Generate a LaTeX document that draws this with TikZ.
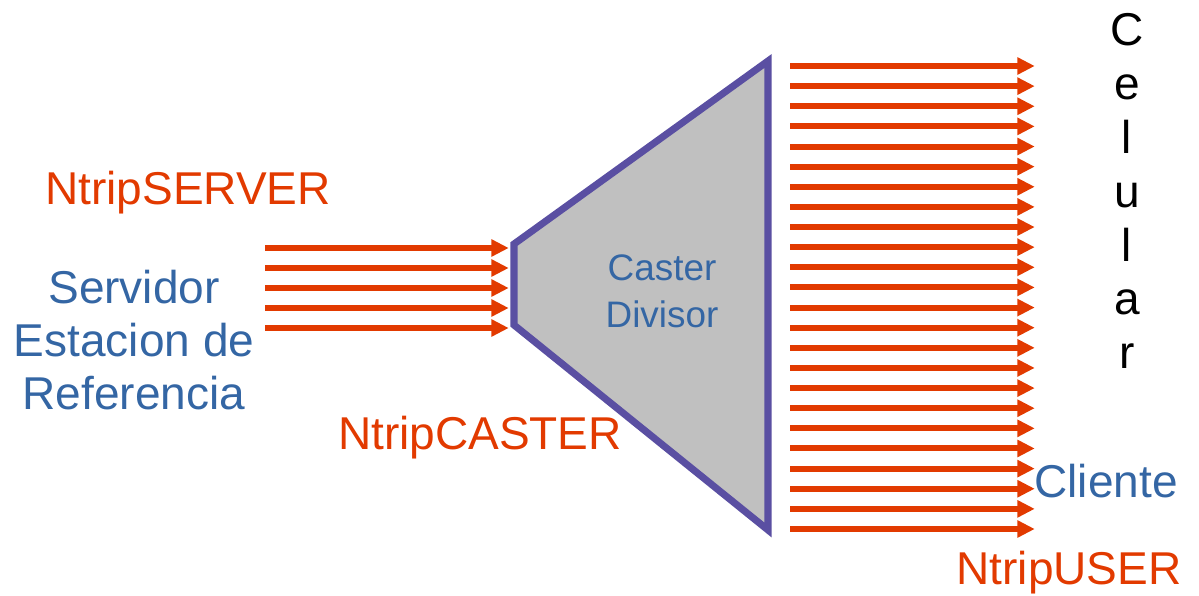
\documentclass[tikz,border=0pt]{standalone}
\usepackage{fontspec}
\setmainfont{Liberation Sans}
\usetikzlibrary{arrows.meta, positioning}

\definecolor{ntriporange}{HTML}{E23A00}
\definecolor{ntripblue}{HTML}{3466A4}
\definecolor{casterline}{HTML}{5A4FA2}
\definecolor{castergray}{HTML}{C0C0C0}

\begin{document}
\begin{tikzpicture}[
    x=0.02cm, y=-0.02cm,
    bigtext/.style={inner sep=0pt, font=\fontsize{26.2}{30.2}\selectfont, align=center},
    redlabel/.style={bigtext, text=ntriporange},
    bluelabel/.style={bigtext, text=ntripblue},
    caster/.style={draw=casterline, fill=castergray, line width=4pt, line join=miter},
    flow/.style={-{Triangle[length=0.35cm, width=0.33cm]}, line width=3.4pt, color=ntriporange, shorten >=-1pt}
]
\useasboundingbox (0,0) rectangle (1199,595);

% Caster: the trapezoid
\coordinate (ctl) at (514,244);
\coordinate (ctr) at (768,61);
\coordinate (cbr) at (768,530);
\coordinate (cbl) at (514,325);
\draw[caster] (ctl) -- (ctr) -- (cbr) -- (cbl) -- cycle;
\node[inner sep=0pt, font=\fontsize{21}{26.7}\selectfont, text=ntripblue, align=center] (divisor) at (662,291) {Caster\\Divisor};

% Server side
\node[redlabel] (server) at (188,193) {NtripSERVER};
\node[bluelabel] (station) at (134,340) {Servidor\\Estacion de\\Referencia};
\node[redlabel] (casterlbl) at (480,438) {NtripCASTER};

% Client side
\node[bigtext, font=\fontsize{26.2}{30.7}\selectfont] (celular) at (1127,191) {C\\e\\l\\u\\l\\a\\r};
\node[bluelabel] (cliente) at (1106,481) {Cliente};
\node[redlabel] (user) at (1069,573) {NtripUSER};

% Streams into the caster
\foreach \i in {0,...,4} {
    \coordinate (in\i) at (265,248+20*\i);
    \coordinate (inend\i) at (507,248+20*\i);
    \draw[flow] (in\i) -- (inend\i);
}

% Streams out to the users
\foreach \i in {0,...,23} {
    \coordinate (out\i) at (790,66+20.13*\i);
    \coordinate (outend\i) at (1033,66+20.13*\i);
    \draw[flow] (out\i) -- (outend\i);
}

\end{tikzpicture}
\end{document}
